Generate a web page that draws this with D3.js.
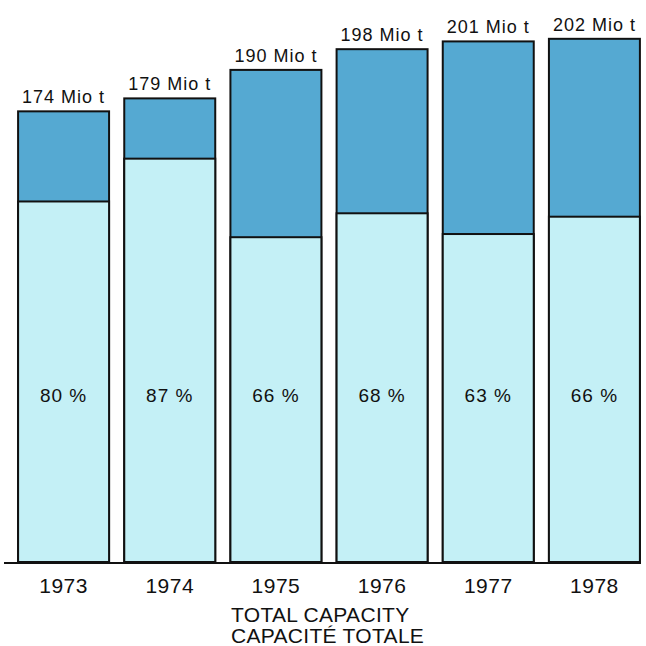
<!DOCTYPE html>
<html>
<head>
<meta charset="utf-8">
<script src="https://cdn.jsdelivr.net/npm/d3@7"></script>
<style>
  body { margin: 0; background: #fff; }
  text { font-family: "Liberation Sans", Arial, sans-serif; fill: #111; }
</style>
</head>
<body>
<div id="chart"></div>
<script>
// capacity data
const years = ["1973", "1974", "1975", "1976", "1977", "1978"];
const capacity = [174, 179, 190, 198, 201, 202];   // Mio t
const utilisation = [80, 87, 66, 68, 63, 66];      // percent used
const titleLines = ["TOTAL CAPACITY", "CAPACITÉ TOTALE"];

const width = 646, height = 646;
const baseY = 562;

const svg = d3.select("#chart")
    .append("svg")
    .attr("width", width)
    .attr("height", height);

const x = d3.scaleBand()
    .domain(years)
    .range([10.5, 647.5])
    .paddingInner(0.143)
    .paddingOuter(0.0715);

const y = d3.scaleLinear()
    .domain([0, 200])
    .range([baseY, 44]);

const bars = svg.append("g")
    .selectAll("g")
    .data(years.map((yr, i) => ({ year: yr, cap: capacity[i], pct: utilisation[i] })))
    .join("g");

// full bar (unused part shows as dark blue)
bars.append("rect")
    .attr("x", d => x(d.year))
    .attr("y", d => y(d.cap))
    .attr("width", x.bandwidth())
    .attr("height", d => baseY - y(d.cap))
    .attr("fill", "#55a9d2")
    .attr("stroke", "#111")
    .attr("stroke-width", 2);

// used part
bars.append("rect")
    .attr("x", d => x(d.year))
    .attr("y", d => y(d.cap * d.pct / 100))
    .attr("width", x.bandwidth())
    .attr("height", d => baseY - y(d.cap * d.pct / 100))
    .attr("fill", "#c4f0f6")
    .attr("stroke", "#111")
    .attr("stroke-width", 2);

bars.append("text")
    .attr("x", d => x(d.year) + x.bandwidth() / 2)
    .attr("y", d => y(d.cap) - 8)
    .attr("text-anchor", "middle")
    .style("font-size", "18px")
    .style("letter-spacing", "1px")
    .text(d => d.cap + " Mio t");

bars.append("text")
    .attr("x", d => x(d.year) + x.bandwidth() / 2)
    .attr("y", 402)
    .attr("text-anchor", "middle")
    .style("font-size", "19px")
    .style("letter-spacing", "1px")
    .text(d => d.pct + " %");

// baseline
svg.append("line")
    .attr("x1", 4)
    .attr("x2", 641)
    .attr("y1", baseY + 1)
    .attr("y2", baseY + 1)
    .attr("stroke", "#111")
    .attr("stroke-width", 2);

const xAxis = svg.append("g")
    .attr("transform", `translate(0,${baseY})`)
    .call(d3.axisBottom(x).tickSize(0).tickPadding(16));
xAxis.select(".domain").remove();
xAxis.selectAll("text")
    .style("font-size", "21px")
    .style("letter-spacing", "0.5px")
    .attr("font-family", null);

svg.append("g")
    .selectAll("text")
    .data(titleLines)
    .join("text")
    .attr("x", 231)
    .attr("y", (d, i) => 622 + i * 21)
    .style("font-size", "21px")
    .style("letter-spacing", "0.3px")
    .text(d => d);
</script>
</body>
</html>
